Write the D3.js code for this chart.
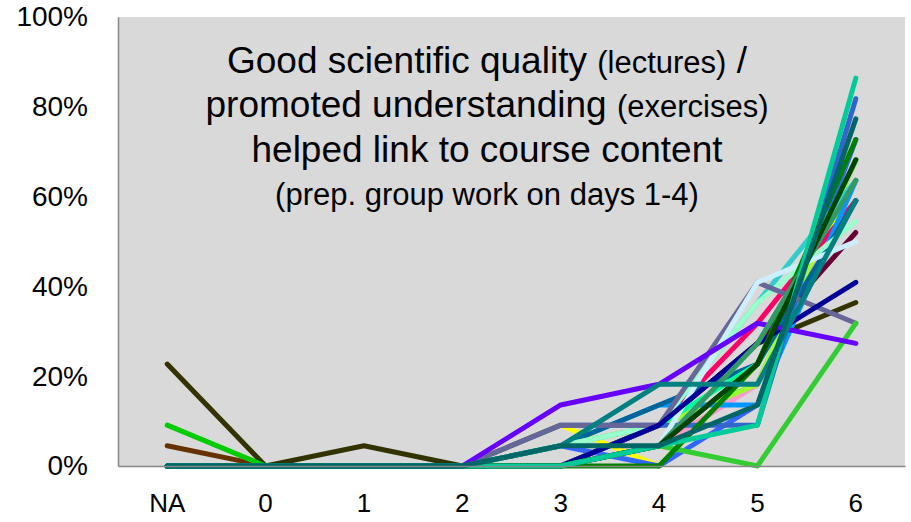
<!DOCTYPE html>
<html><head><meta charset="utf-8">
<script src="https://cdn.jsdelivr.net/npm/d3@7"></script>
<style>body{margin:0;background:#fff}svg{display:block}</style>
</head><body>
<svg id="c" width="911" height="522"></svg>
<script>
const categories = ["NA","0","1","2","3","4","5","6"];
const yTicks = [0,20,40,60,80,100];
// series values in percent (k/22 of respondents)
const seriesColors = [
 "#663300","#333300","#00cc00","#ffff00","#3366ff","#cc99ff","#ff99cc","#99ff33","#ff0066",
 "#660033","#0099ff","#006699","#33cccc","#00ff99","#99ffcc","#3366cc","#666699","#cceeff",
 "#000099","#33cc33","#6600ff","#008000","#339966","#004400","#00cc99",
 "#008080","#006666"
];
const seriesValues = [
 [4.5,0,0,0,0,4.5,22.7,63.6],
 [22.7,0,4.5,0,0,9.1,27.3,36.4],
 [9.1,0,0,0,0,9.1,18.2,68.2],
 [0,0,0,0,9.1,0,22.7,63.6],
 [0,0,0,0,4.5,0,13.6,72.7],
 [0,0,0,0,0,4.5,18.2,59.1],
 [0,0,0,0,0,4.5,18.2,68.2],
 [0,0,0,0,4.5,9.1,18.2,68.2],
 [0,0,0,0,0,9.1,31.8,59.1],
 [0,0,0,0,0,9.1,27.3,52.0],
 [0,0,0,0,4.5,13.6,13.6,63.6],
 [0,0,0,0,4.5,13.6,22.7,59.1],
 [0,0,0,0,0,9.1,36.4,63.6],
 [0,0,0,0,4.5,9.1,22.7,68.2],
 [0,0,0,0,4.5,9.1,36.4,54.5],
 [0,0,0,0,9.1,9.1,9.1,81.8],
 [0,0,0,0,9.1,9.1,40.9,31.8],
 [0,0,0,0,0,4.5,40.9,50.0],
 [0,0,0,0,0,9.1,27.3,40.9],
 [0,0,0,0,0,4.5,0,31.8],
 [0,0,0,0,13.6,18.2,31.8,27.3],
 [0,0,0,0,0,0,22.7,72.7],
 [0,0,0,0,0,4.5,27.3,63.6],
 [0,0,0,0,0,4.5,22.7,68.2],
 [0,0,0,0,0,4.5,9.1,86.4],
 [0,0,0,0,4.5,18.2,18.2,59.1],
 [0,0,0,0,4.5,4.5,13.6,77.3]
];
const titleLines = [
 [["Good scientific quality ",37],["(lectures)",31],[" /",37]],
 [["promoted understanding ",37],["(exercises)",31]],
 [["helped link to course content",37]],
 [["(prep. group work on days 1-4)",31]]
];

const svg = d3.select("#c");
const L=118, R=905, T=17, B=466;
const x = d3.scaleBand().domain(categories).range([L,R]);
const y = d3.scaleLinear().domain([0,100]).range([B,T]);

svg.append("rect").attr("x",L).attr("y",T).attr("width",R-L).attr("height",B-T).attr("fill","#d9d9d9");

const line = d3.line().x((d,i)=>x(categories[i])+x.bandwidth()/2).y(d=>y(d));
svg.append("g").selectAll("path").data(seriesValues).join("path")
  .attr("d",line).attr("fill","none")
  .attr("stroke",(d,i)=>seriesColors[i]).attr("stroke-width",5)
  .attr("stroke-linecap","round").attr("stroke-linejoin","round");

const yAxis = svg.append("g").attr("transform",`translate(${L},0)`)
  .call(d3.axisLeft(y).tickValues(yTicks).tickSize(0).tickPadding(30).tickFormat(d=>d+"%"));
yAxis.select(".domain").attr("stroke","#888").attr("stroke-width",1.5);
yAxis.selectAll("text").attr("font-family","Liberation Sans, Arial, sans-serif").attr("font-size",28).attr("fill","#000");

const xAxis = svg.append("g").attr("transform",`translate(0,${B})`)
  .call(d3.axisBottom(x).tickSize(0).tickPadding(28));
xAxis.select(".domain").attr("stroke","#888").attr("stroke-width",1.5);
xAxis.selectAll("text").attr("font-family","Liberation Sans, Arial, sans-serif").attr("font-size",26).attr("fill","#000");

const baselines=[73,117,162,205];
titleLines.forEach((parts,li)=>{
  const t = svg.append("text").attr("x",487).attr("y",baselines[li]).attr("text-anchor","middle")
    .attr("font-family","Liberation Sans, Arial, sans-serif").attr("fill","#000");
  parts.forEach(p=>t.append("tspan").attr("font-size",p[1]).text(p[0]));
});
</script>
</body></html>
